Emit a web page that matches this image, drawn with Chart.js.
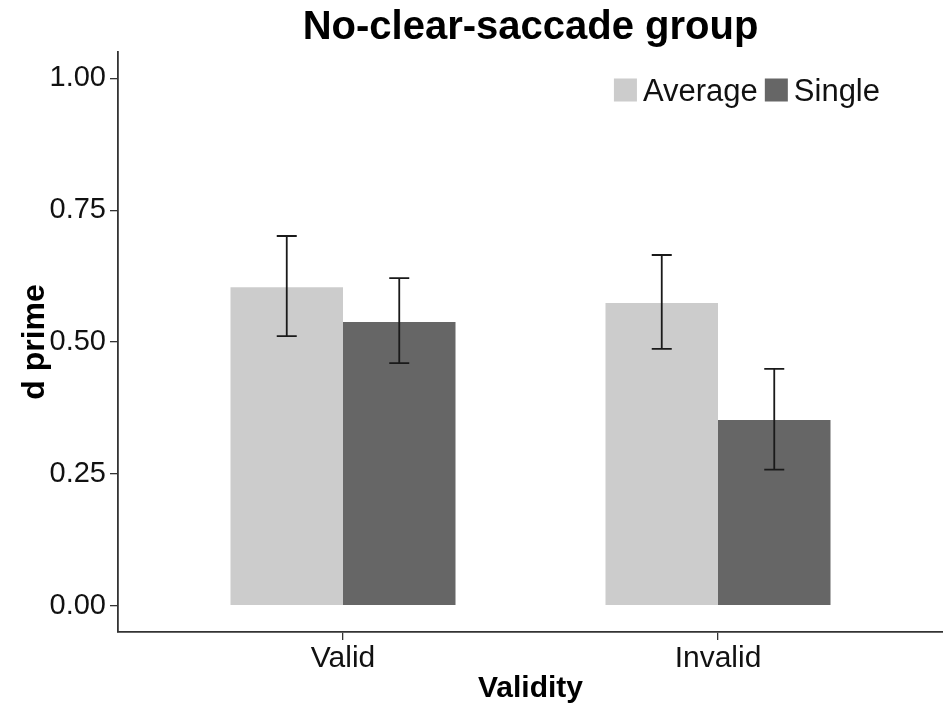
<!DOCTYPE html>
<html lang="en">
<head>
    <meta charset="UTF-8">
    <title>No-clear-saccade group</title>
    <script src="https://cdn.jsdelivr.net/npm/chart.js"></script>
    <style>
        body { margin: 0; background: #fff; }
        #chart { display: block; }
    </style>
</head>
<body>

<canvas id="chart" width="943" height="717"></canvas>

<script>
    // data
    const categories = ['Valid', 'Invalid'];
    const seriesNames = ['Average', 'Single'];
    const averageValues = [0.604, 0.574];
    const singleValues = [0.538, 0.352];
    const averageLow = [0.511, 0.487];
    const averageHigh = [0.701, 0.665];
    const singleLow = [0.460, 0.258];
    const singleHigh = [0.621, 0.449];
    const yTicks = [0, 0.25, 0.5, 0.75, 1];

    const FONT = "'Liberation Sans', Arial, sans-serif";
    const colors = ['#cccccc', '#666666'];
    const errors = [[averageLow, averageHigh], [singleLow, singleHigh]];

    const toPoints = vals => vals.map((v, i) => ({ x: i + 1, y: v }));

    const errorBars = {
        id: 'errorBars',
        afterDatasetsDraw(chart) {
            const ctx = chart.ctx;
            const y = chart.scales.y;
            ctx.save();
            ctx.strokeStyle = '#1a1a1a';
            ctx.lineWidth = 1.8;
            chart.data.datasets.forEach((ds, d) => {
                const meta = chart.getDatasetMeta(d);
                meta.data.forEach((bar, i) => {
                    const lo = y.getPixelForValue(errors[d][0][i]);
                    const hi = y.getPixelForValue(errors[d][1][i]);
                    ctx.beginPath();
                    ctx.moveTo(bar.x, lo); ctx.lineTo(bar.x, hi);
                    ctx.moveTo(bar.x - 10, lo); ctx.lineTo(bar.x + 10, lo);
                    ctx.moveTo(bar.x - 10, hi); ctx.lineTo(bar.x + 10, hi);
                    ctx.stroke();
                });
            });
            ctx.restore();
        }
    };

    // legend inside the panel, top right, in one row
    const innerLegend = {
        id: 'innerLegend',
        afterDraw(chart) {
            const ctx = chart.ctx;
            const area = chart.chartArea;
            ctx.save();
            ctx.font = '31px ' + FONT;
            ctx.textBaseline = 'middle';
            const box = 23, gap = 6, between = 7;
            const widths = chart.data.datasets.map(ds => ctx.measureText(ds.label).width);
            let total = 0;
            widths.forEach(w => total += box + gap + w);
            total += between * (widths.length - 1);
            let x = area.right - 63 - total;
            const cy = 90;
            chart.data.datasets.forEach((ds, d) => {
                ctx.fillStyle = ds.backgroundColor;
                ctx.fillRect(x, cy - box / 2, box, box);
                x += box + gap;
                ctx.fillStyle = '#111';
                ctx.fillText(ds.label, x, cy + 2);
                x += widths[d] + between;
            });
            ctx.restore();
        }
    };

    new Chart(document.getElementById('chart'), {
        type: 'bar',
        data: {
            datasets: [
                { label: seriesNames[0], data: toPoints(averageValues), backgroundColor: colors[0] },
                { label: seriesNames[1], data: toPoints(singleValues), backgroundColor: colors[1] }
            ]
        },
        options: {
            responsive: false,
            animation: false,
            categoryPercentage: 0.6,
            barPercentage: 1.0,
            layout: { padding: { left: 0, right: 0, top: 0, bottom: 0 } },
            plugins: {
                legend: { display: false },
                tooltip: { enabled: false },
                title: {
                    display: true,
                    text: 'No-clear-saccade group',
                    fullSize: false,
                    color: '#000',
                    font: { family: FONT, size: 40, weight: 'bold', lineHeight: 1.1 },
                    padding: { top: 6, bottom: 2 }
                }
            },
            scales: {
                x: {
                    type: 'linear',
                    min: 0.4,
                    max: 2.6,
                    offset: false,
                    afterBuildTicks: s => { s.ticks = categories.map((c, i) => ({ value: i + 1 })); },
                    afterFit: s => { s.height = 85; },
                    ticks: {
                        callback: v => categories[v - 1],
                        color: '#111',
                        font: { family: FONT, size: 30 },
                        padding: 1,
                        maxRotation: 0
                    },
                    grid: { offset: false, drawOnChartArea: false, drawTicks: true, tickLength: 8, color: '#333', lineWidth: 1.3 },
                    border: { display: true, color: '#333', width: 1.8 },
                    title: {
                        display: true,
                        text: 'Validity',
                        color: '#000',
                        font: { family: FONT, size: 30, weight: 'bold' },
                        padding: { top: 0, bottom: 10 }
                    }
                },
                y: {
                    min: -0.05,
                    max: 1.05,
                    afterBuildTicks: s => { s.ticks = yTicks.map(v => ({ value: v })); },
                    afterFit: s => { s.width = 118; },
                    ticks: {
                        callback: v => v.toFixed(2),
                        color: '#111',
                        font: { family: FONT, size: 29 },
                        padding: 4
                    },
                    grid: { drawOnChartArea: false, drawTicks: true, tickLength: 8, color: '#333', lineWidth: 1.3 },
                    border: { display: true, color: '#333', width: 1.8 },
                    title: {
                        display: true,
                        text: 'd prime',
                        color: '#000',
                        font: { family: FONT, size: 32, weight: 'bold' },
                        padding: { top: 16, bottom: 0 }
                    }
                }
            }
        },
        plugins: [errorBars, innerLegend]
    });
</script>

</body>
</html>
